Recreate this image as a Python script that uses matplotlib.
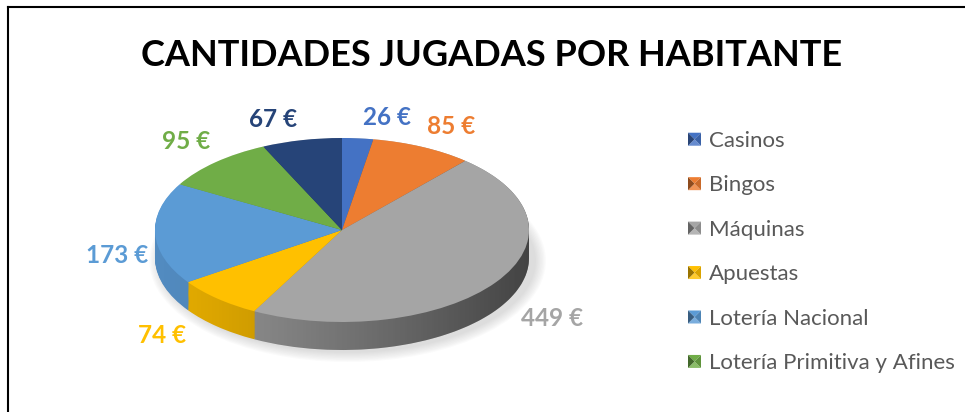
import matplotlib
matplotlib.use("Agg")
import matplotlib.pyplot as plt
import numpy as np
from matplotlib.lines import Line2D
from matplotlib.path import Path
from matplotlib.patches import PathPatch, Ellipse, Polygon, Patch
from matplotlib.legend_handler import HandlerBase
import matplotlib.colors as mcolors

# ---------------- data ----------------
categories = ["Casinos", "Bingos", "Máquinas", "Apuestas", "Lotería Nacional",
              "Lotería Primitiva y Afines", "ONCE"]
values = [26, 85, 449, 74, 173, 95, 67]
colors = ["#4472C4", "#ED7D31", "#A5A5A5", "#FFC000", "#5B9BD5", "#70AD47", "#264478"]
value_labels = [f"{v} €" for v in values]
legend_labels = categories[:6]          # legend is truncated in the original
title = "CANTIDADES JUGADAS POR HABITANTE"

# ---------------- layout ----------------
W, H = 965, 412
fig = plt.figure(figsize=(W / 100, H / 100), dpi=100)
FONT = ["Lato", "DejaVu Sans"]

cx, cy, rx, ry = 342, 230, 187, 92          # pixel centre / radii of top ellipse
depth_px = 28
ax = fig.add_axes([(cx - 1.2 * rx) / W, (H - (cy + 1.6 * ry)) / H,
                   2.4 * rx / W, 2.8 * ry / H])
depth = depth_px / ry

def shade(c, f):
    r, g, b = mcolors.to_rgb(c)
    if f <= 1:
        return (r * f, g * f, b * f)
    k = f - 1
    return (r + (1 - r) * k, g + (1 - g) * k, b + (1 - b) * k)

# soft shadow
for k in range(8):
    e = Ellipse((0.03, -depth - 0.03), 2.0 + 0.12 - k * 0.015, 2.0 + 0.2 - k * 0.028,
                facecolor="#9a9a9a", edgecolor="none", alpha=0.045, zorder=0)
    ax.add_patch(e)

# side layers
side_colors = [shade(c, 0.9) for c in colors]
n_layers = 30
for i in range(n_layers):
    yc = -depth + depth * i / n_layers
    ax.pie(values, colors=side_colors, startangle=90, counterclock=False,
           center=(0, yc), radius=1.0, wedgeprops=dict(linewidth=0, edgecolor="none"),
           frame=True)

# horizontal darkening gradient over the side
t = np.linspace(-1, 1, 300)
alpha = 0.55 * ((t + 1) / 2) ** 1.3
grad = np.zeros((2, 300, 4))
grad[..., 3] = alpha
ang = np.linspace(0, np.pi, 100)
top_half = np.column_stack([np.cos(ang), np.sin(ang)])
ang2 = np.linspace(np.pi, 2 * np.pi, 100)
bot_half = np.column_stack([np.cos(ang2), np.sin(ang2) - depth])
verts = np.vstack([top_half, bot_half, top_half[:1]])
clip = PathPatch(Path(verts, closed=True), transform=ax.transData,
                 facecolor="none", edgecolor="none")
ax.add_patch(clip)
im = ax.imshow(grad, extent=(-1, 1, -1 - depth, 1), aspect="auto", zorder=5)
im.set_clip_path(clip)

# top surface
wedges, _ = ax.pie(values, colors=colors, startangle=90, counterclock=False,
                   center=(0, 0), radius=1.0,
                   wedgeprops=dict(linewidth=0, edgecolor="none"), frame=True)
for w in wedges:
    w.set_zorder(6)

ax.set_aspect("auto")
ax.set_xlim(-1.2, 1.2)
ax.set_ylim(-1.6, 1.2)
ax.axis("off")

# value labels: "outside end" placement, box corner next to the slice edge
cum = np.cumsum([0] + values)
total = cum[-1]
texts = []
for i, v in enumerate(values):
    texts.append(ax.text(0, 0, value_labels[i], ha="center", va="center",
                         color=colors[i], fontsize=17.5, fontweight="bold",
                         family=FONT, zorder=10))
fig.canvas.draw()
renderer = fig.canvas.get_renderer()
for i, txt in enumerate(texts):
    bb = txt.get_window_extent(renderer)
    w, h = bb.width, bb.height * 0.75
    mid = (cum[i] + cum[i + 1]) / 2 / total * 360
    th = np.deg2rad(90 - mid)
    c, s = np.cos(th), np.sin(th)
    if s >= 0:
        gx = 5
        y = s + (h / 2 + 12) / ry
    else:
        gx = 5 + 35 * (-s)
        y = s - (h / 2 + depth_px * min(1.0, 0.4 + 1.5 * (-s))) / ry
    x = c + np.sign(c) * (w / 2 + gx) / rx
    txt.set_position((x, y))

# title
fig.text(492 / W, 1 - 55 / H, title, ha="center", va="center", fontsize=26,
         fontweight="bold", family=FONT, color="black")

# legend with bevelled ("pyramid") square keys
class BevelHandler(HandlerBase):
    def create_artists(self, legend, orig_handle, xdescent, ydescent, width,
                       height, fontsize, trans):
        base = orig_handle.get_facecolor()
        side = 13 / 100 * 72          # 13 px in points
        x0 = -xdescent
        y0 = -ydescent + (height - side) / 2
        x1, y1 = x0 + side, y0 + side
        xm, ym = (x0 + x1) / 2, (y0 + y1) / 2
        tris = [((x0, y1), (x1, y1), (xm, ym), shade(base, 1.0)),   # top
                ((x0, y0), (x1, y0), (xm, ym), shade(base, 1.18)),  # bottom
                ((x0, y0), (x0, y1), (xm, ym), shade(base, 0.6)),   # left
                ((x1, y0), (x1, y1), (xm, ym), shade(base, 0.85))]  # right
        arts = []
        for a, b, m, col in tris:
            p = Polygon([a, b, m], closed=True, facecolor=col, edgecolor="none",
                        transform=trans)
            arts.append(p)
        return arts

handles = [Patch(facecolor=colors[i]) for i in range(len(legend_labels))]
leg = fig.legend(handles, legend_labels, loc="upper left",
                 bbox_to_anchor=(688 / W, 1 - 131 / H), frameon=False,
                 prop=dict(family=FONT, size=16), labelcolor="#595959",
                 handler_map={Patch: BevelHandler()},
                 handlelength=0.6, handletextpad=0.35, labelspacing=1.1,
                 borderaxespad=0, borderpad=0)

# chart frame (only left and top edges are visible)
fig.add_artist(Line2D([8 / W, 8 / W], [0, 1 - 7 / H], color="black", linewidth=1.5))
fig.add_artist(Line2D([8 / W, 1], [1 - 7 / H, 1 - 7 / H], color="black", linewidth=1.5))

fig.savefig("out.png", dpi=100)
